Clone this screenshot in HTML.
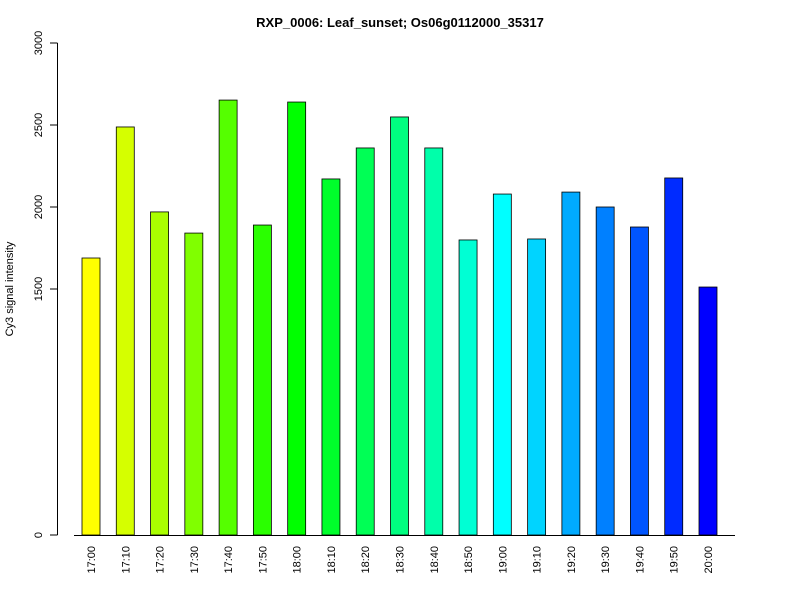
<!DOCTYPE html>
<html><head><meta charset="utf-8"><style>body{margin:0;background:#fff}svg{font-family:"Liberation Sans",sans-serif}</style></head>
<body>
<svg id="c" width="800" height="600">
<text x="400" y="27" text-anchor="middle" font-weight="bold" font-size="13">RXP_0006: Leaf_sunset; Os06g0112000_35317</text>
<text transform="translate(13,289) rotate(-90)" text-anchor="middle" font-size="11">Cy3 signal intensity</text>
<g id="bars"></g><g id="axes"></g>
</svg>
<script>
const categories=["17:00","17:10","17:20","17:30","17:40","17:50","18:00","18:10","18:20","18:30","18:40","18:50","19:00","19:10","19:20","19:30","19:40","19:50","20:00"];
const values=[1689,2488,1970,1841,2652,1890,2640,2171,2360,2549,2360,1799,2079,1805,2091,2000,1878,2177,1512];
const yTicks=[0,1500,2000,2500,3000];
const NS="http://www.w3.org/2000/svg";
const y=v=>535-v*0.164;
const x=i=>91+i*(617/(categories.length-1));
function mk(t,a,p){const e=document.createElementNS(NS,t);for(const k in a)e.setAttribute(k,a[k]);p.appendChild(e);return e;}
const bars=document.getElementById('bars'),axes=document.getElementById('axes');
values.forEach((v,i)=>{
 const hue=60+i*180/(values.length-1);
 const r=mk('rect',{x:x(i)-9,y:y(v),width:18,height:535-y(v),fill:`hsl(${hue},100%,50%)`,stroke:'#000','stroke-width':0.8},bars);
 
 
 const t=mk('text',{transform:`translate(${x(i)+4},546) rotate(-90)`,'text-anchor':'end','font-size':11},axes);
 t.textContent=categories[i];
 
 
});
const xl=mk('line',{x1:74,x2:735,y1:535.5,y2:535.5,stroke:'#000'},axes);


const yl=mk('line',{x1:57.5,x2:57.5,y1:y(0),y2:y(3000),stroke:'#000'},axes);


yTicks.forEach(v=>{
 mk('line',{x1:50,x2:57.5,y1:y(v),y2:y(v),stroke:'#000'},axes);
 const t=mk('text',{transform:`translate(42,${y(v)}) rotate(-90)`,'text-anchor':'middle','font-size':11},axes);
 t.textContent=v;
 
 
});
</script>
</body></html>
